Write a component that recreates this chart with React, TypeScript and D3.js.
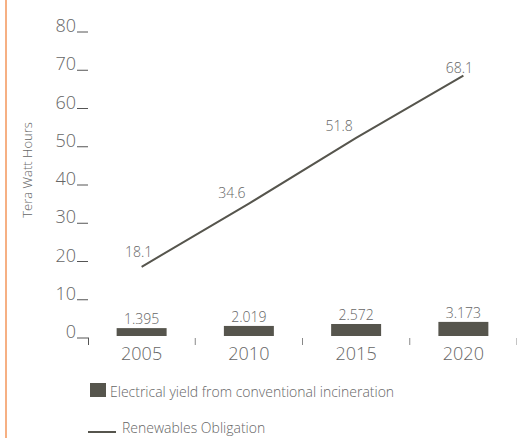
import React from "react";
import * as d3 from "d3";

const years = ["2005", "2010", "2015", "2020"];
const incineration = [1.395, 2.019, 2.572, 3.173];
const renewables = [18.1, 34.6, 51.8, 68.1];
const yTicks = [0, 10, 20, 30, 40, 50, 60, 70, 80];
const lineLabelDx = [-3, -17, -17, -4];
const lineLabelDy = [-10, -6, -7, -3];

const W = 517;
const H = 438;
const FONT = "'Open Sans', 'Noto Sans', sans-serif";
const DARK = "#56554d";
const TEXT = "#666666";

export default function App() {
  const x = d3
    .scaleBand<string>()
    .domain(years)
    .range([88, 517])
    .paddingInner(0.534)
    .paddingOuter(0.267);
  const y = d3.scaleLinear().domain([0, 80]).range([336, 30]);
  const barH = d3.scaleLinear().domain([0, 4]).range([3, 17]);
  const cx = (d: string) => (x(d) as number) + x.bandwidth() / 2;
  const line = d3
    .line<number>()
    .x((_, i) => cx(years[i]))
    .y((d) => y(d));
  const baseY = y(0);
  const step = x.step();
  const boundaries = years.map((_, i) => 88 + step * (i + 1));

  return (
    <div style={{ position: "absolute", left: 0, top: 0 }}>
      <svg width={W} height={H} style={{ display: "block" }} fontFamily={FONT} fontWeight={300}>
        <rect x={0} y={0} width={W} height={H} fill="#fff" />
        <line x1={6} x2={6} y1={0} y2={H} stroke="#f6b083" strokeWidth={2} />
        <text
          transform="translate(32,170) rotate(-90)"
          textAnchor="middle"
          fontSize={13}
          fill={TEXT}
        >
          Tera Watt Hours
        </text>
        {yTicks.map((t) => (
          <g key={t}>
            <text x={76} y={y(t) + 2} textAnchor="end" fontSize={18} fill={TEXT}>
              {t}
            </text>
            <line x1={77} x2={t === 0 ? 89 : 88} y1={y(t) + 2} y2={y(t) + 2} stroke="#555" strokeWidth={1} />
          </g>
        ))}
        <line x1={88.5} x2={88.5} y1={y(0) + 2} y2={345} stroke="#555" strokeWidth={1} />
        {boundaries.map((b, i) => (
          <line key={i} x1={b} x2={b} y1={338} y2={345} stroke="#888" strokeWidth={1} />
        ))}
        {years.map((yr, i) => (
          <g key={yr}>
            <rect
              x={x(yr)}
              y={baseY - barH(incineration[i])}
              width={x.bandwidth()}
              height={barH(incineration[i])}
              fill={DARK}
            />
            <text
              x={cx(yr)}
              y={baseY - barH(incineration[i]) - 4}
              textAnchor="middle"
              fontSize={14}
              fill={TEXT}
            >
              {incineration[i].toFixed(3)}
            </text>
            <text x={cx(yr)} y={360} textAnchor="middle" fontSize={18} fill={TEXT}>
              {yr}
            </text>
          </g>
        ))}
        <path d={line(renewables) || ""} fill="none" stroke={DARK} strokeWidth={2} />
        {renewables.map((v, i) => (
          <text
            key={i}
            x={cx(years[i]) + lineLabelDx[i]}
            y={y(v) + lineLabelDy[i]}
            textAnchor="middle"
            fontSize={14}
            fill={TEXT}
          >
            {v.toFixed(1)}
          </text>
        ))}
        <rect x={90} y={383} width={16} height={14} fill={DARK} />
        <text x={110} y={397} fontSize={14} fill={TEXT}>
          Electrical yield from conventional incineration
        </text>
        <line x1={88} x2={116} y1={432} y2={432} stroke={DARK} strokeWidth={2} />
        <text x={122} y={433} fontSize={14} fill={TEXT}>
          Renewables Obligation
        </text>
      </svg>
    </div>
  );
}
